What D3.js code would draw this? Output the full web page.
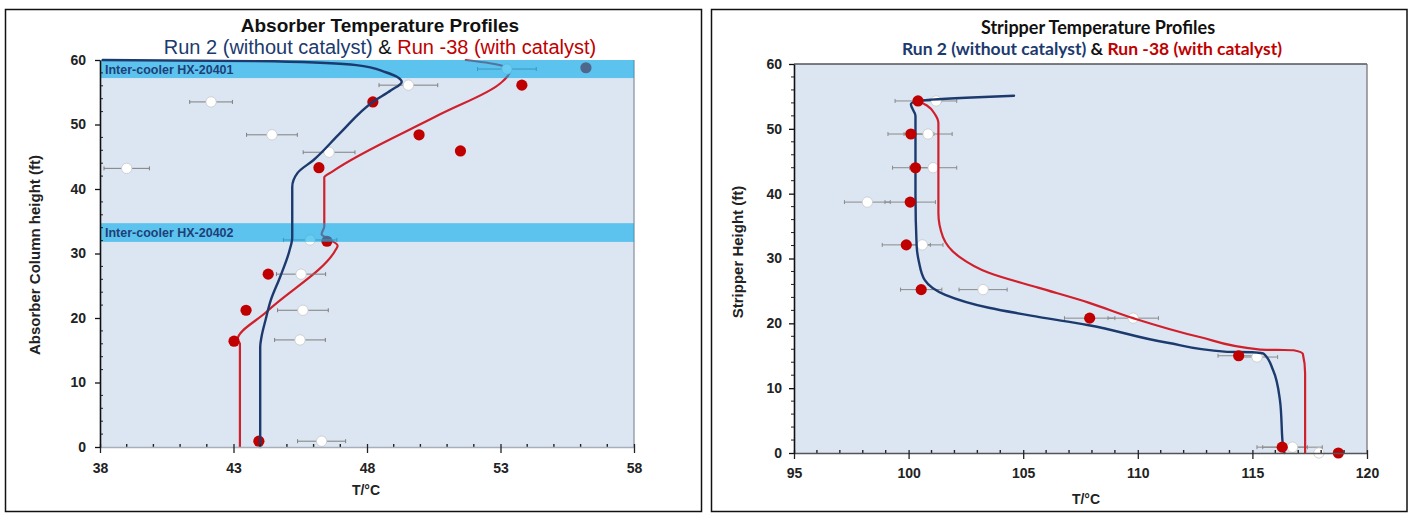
<!DOCTYPE html>
<html>
<head>
<meta charset="utf-8">
<script src="https://cdn.jsdelivr.net/npm/d3@7"></script>
<style>
  body { margin: 0; background: #fff; }
  svg { display: block; }
</style>
</head>
<body>
<script>
// ---------- Absorber column (left panel) ----------
const absXTicks = [38, 43, 48, 53, 58];
const absYTicks = [0, 10, 20, 30, 40, 50, 60];

// Run 2 (without catalyst): measured temperature, height, +/- error
const absRun2T   = [49.55, 42.16, 44.44, 46.58, 39.0, 45.87, 45.53, 45.6, 45.49, 46.3, 53.24];
const absRun2H   = [56.1, 53.5, 48.4, 45.7, 43.2, 32.1, 26.8, 21.2, 16.6, 0.9, 58.6];
const absRun2Err = [1.1, 0.8, 0.95, 0.97, 0.85, 1.0, 0.92, 0.95, 0.95, 0.9, 1.1];

// Run -38 (with catalyst): measured temperature, height
const absRun38T = [48.22, 49.95, 51.5, 46.2, 46.5, 53.8, 56.2, 44.3, 43.47, 43.02, 43.95];
const absRun38H = [53.5, 48.4, 45.9, 43.3, 31.9, 56.1, 58.8, 26.8, 21.2, 16.4, 0.9];

// Model profiles [T, height], listed from the bottom of the column upward
const absRun2Model = [[44.0,0],[44.0,15.5],[44.05,17.1],[44.2,19.7],[44.4,22.8],[44.75,26.4],[45.1,30.5],
  [45.2,32.5],[45.2,40.3],[45.4,42.5],[46.0,44.5],[47.0,48.7],[48.22,53.5],[48.9,55.3],[49.3,56.6],
  [48.7,58.1],[47.6,59.2],[44.5,59.8],[38.1,60]];
const absRun38Model = [[43.24,0],[43.24,16.0],[43.15,16.6],[44.25,21.0],[46.8,30.4],[46.9,31.2],
  [46.6,32.2],[46.3,33.0],[46.4,34.2],[46.4,41.8],[46.7,42.7],[50.7,51.5],[53.0,56.4],[53.35,58.2],
  [53.2,58.9],[52.6,59.5],[51.7,60]];

// Inter-cooler bands [bottom, top] in ft
const coolerNames = ["Inter-cooler HX-20401", "Inter-cooler HX-20402"];
const coolerBands = [[57.2, 60], [31.8, 34.7]];

// ---------- Stripper column (right panel) ----------
const strXTicks = [95, 100, 105, 110, 115, 120];
const strYTicks = [0, 10, 20, 30, 40, 50, 60];

const strRun2T   = [101.2, 100.85, 101.07, 98.2, 100.6, 103.25, 109.8, 115.2, 116.75, 117.9];
const strRun2H   = [54.3, 49.2, 44.0, 38.7, 32.1, 25.2, 20.8, 14.8, 0.9, 0.0];
const strRun2Err = [0.9, 1.05, 1.03, 1.0, 0.9, 1.05, 1.1, 0.9, 1.3, 0];

const strRun38T   = [100.41, 100.1, 100.3, 100.07, 99.9, 100.55, 107.9, 114.4, 116.3, 118.75];
const strRun38H   = [54.3, 49.2, 44.0, 38.7, 32.1, 25.2, 20.8, 15.0, 0.9, 0.0];
const strRun38Err = [1.0, 1.0, 1.0, 1.1, 1.05, 0.9, 1.1, 0.9, 1.1, 0];

const strRun2Model = [[116.4,0],[116.35,0.5],[116.2,8.2],[115.9,12.8],[115.5,15.3],[115.0,15.55],
  [113.9,15.6],[111.3,17.0],[107.8,19.75],[105.65,21.0],[103.5,22.4],[101.6,24.4],[100.7,26.7],
  [100.45,29.5],[100.35,32],[100.3,40],[100.3,52.0],[100.1,53.8],[100.4,54.3],[101.0,54.5],
  [102.5,54.8],[104.6,55.1]];
const strRun38Model = [[117.3,0],[117.3,12.3],[117.2,15.3],[116.8,15.85],[116.1,15.9],[115.35,15.95],
  [112.7,17.9],[109.8,20.8],[107.85,23.2],[105.65,25.5],[103.5,27.8],[102.2,30.3],[101.5,33.3],
  [101.3,37],[101.3,50.9],[101.16,52.2],[100.8,53.6],[100.41,54.3]];

// ---------- styles ----------
const NAVY = "#1c3a6e";
const RED = "#c00000";
const RED_LINE = "#d0202c";
const PLOT_BG = "#dce6f2";
const ARIAL = "'Liberation Sans', Arial, sans-serif";
const CALIBRI = "Lato, 'Open Sans', sans-serif";

const svg = d3.select("body").append("svg")
  .attr("width", 1413).attr("height", 513)
  .style("background", "#fff");

function range(a, b, step) { return d3.range(a, b + step / 2, step); }

function drawAxes(g, x, y, xMajor, yMajor, opt) {
  const [x0] = x.range();
  const [y0] = y.range();
  // minor ticks
  const xMinor = range(x.domain()[0], x.domain()[1], 1).filter(v => !xMajor.includes(v));
  g.append("g").selectAll("line").data(xMinor).join("line")
    .attr("x1", d => x(d)).attr("x2", d => x(d))
    .attr("y1", y0).attr("y2", y0 - 3)
    .attr("stroke", "#222").attr("stroke-width", 1.4);
  const yMinor = range(0, 60, 2).filter(v => !yMajor.includes(v));
  g.append("g").selectAll("line").data(yMinor).join("line")
    .attr("x1", x0 - (opt.yMinorOut || 0)).attr("x2", x0 + (opt.yMinorIn || 0))
    .attr("y1", d => y(d)).attr("y2", d => y(d))
    .attr("stroke", "#222").attr("stroke-width", 1);

  const xa = g.append("g").attr("transform", `translate(0,${y0})`)
    .call(d3.axisBottom(x).tickValues(xMajor).tickSize(6).tickSizeOuter(0).tickPadding(opt.xPad));
  xa.select(".domain").attr("stroke", opt.xDomain).attr("stroke-width", 1.3);
  xa.selectAll(".tick line").attr("stroke", "#222").attr("stroke-width", 1.3).attr("y1", -3);
  xa.selectAll("text").attr("font-family", ARIAL).attr("font-size", opt.tickFont)
    .attr("font-weight", "bold").attr("fill", "#222");

  const ya = g.append("g").attr("transform", `translate(${x0},0)`)
    .call(d3.axisLeft(y).tickValues(yMajor).tickSize(5).tickSizeOuter(0).tickPadding(opt.yPad));
  ya.select(".domain").attr("stroke", "#111").attr("stroke-width", 1.6);
  ya.selectAll(".tick line").attr("stroke", "#111").attr("stroke-width", 1.3);
  ya.selectAll("text").attr("font-family", ARIAL).attr("font-size", opt.tickFont)
    .attr("font-weight", "bold").attr("fill", "#222");
}

function errorBars(g, x, y, T, H, E, color) {
  const idx = d3.range(T.length).filter(i => E[i] > 0);
  const eg = g.append("g").attr("stroke", color).attr("stroke-width", 1);
  eg.selectAll("line.bar").data(idx).join("line").attr("class", "bar")
    .attr("x1", i => x(T[i] - E[i])).attr("x2", i => x(T[i] + E[i]))
    .attr("y1", i => y(H[i])).attr("y2", i => y(H[i]));
  eg.selectAll("line.capL").data(idx).join("line").attr("class", "capL")
    .attr("x1", i => x(T[i] - E[i])).attr("x2", i => x(T[i] - E[i]))
    .attr("y1", i => y(H[i]) - 2).attr("y2", i => y(H[i]) + 2);
  eg.selectAll("line.capR").data(idx).join("line").attr("class", "capR")
    .attr("x1", i => x(T[i] + E[i])).attr("x2", i => x(T[i] + E[i]))
    .attr("y1", i => y(H[i]) - 2).attr("y2", i => y(H[i]) + 2);
}

function dots(g, x, y, T, H, fill, stroke, r) {
  g.append("g").selectAll("circle").data(d3.range(T.length)).join("circle")
    .attr("cx", i => x(T[i])).attr("cy", i => y(H[i])).attr("r", r)
    .attr("fill", fill).attr("stroke", stroke).attr("stroke-width", 0.8);
}

// Profiles are single-valued in height, so interpolate T as a monotone function of height
function profile(g, x, y, pts, color, w) {
  const line = d3.line().x(d => x(d[0])).y(d => y(d[1])).curve(d3.curveMonotoneY);
  g.append("path").datum(pts).attr("d", line)
    .attr("fill", "none").attr("stroke", color).attr("stroke-width", w)
    .attr("stroke-linejoin", "round").attr("stroke-linecap", "round");
}

function subtitle(g, cx, yBase, font, size, weight) {
  const t = g.append("text").attr("x", cx).attr("y", yBase).attr("text-anchor", "middle")
    .attr("font-family", font).attr("font-size", size).attr("font-weight", weight);
  t.append("tspan").attr("fill", NAVY).text("Run 2 (without catalyst)");
  t.append("tspan").attr("fill", "#111").text(" & ");
  t.append("tspan").attr("fill", RED).text("Run -38 (with catalyst)");
}

// ================= Left panel: Absorber =================
{
  const g = svg.append("g");
  g.append("rect").attr("x", 5.5).attr("y", 9.5).attr("width", 696).attr("height", 502)
    .attr("fill", "#fff").attr("stroke", "#111").attr("stroke-width", 1.5);

  const x = d3.scaleLinear().domain([38, 58]).range([100, 634]);
  const y = d3.scaleLinear().domain([0, 60]).range([447, 60]);

  g.append("rect").attr("x", 100).attr("y", y(60)).attr("width", 534).attr("height", y(0) - y(60))
    .attr("fill", PLOT_BG);
  g.append("line").attr("x1", 634).attr("x2", 634).attr("y1", y(60)).attr("y2", y(0))
    .attr("stroke", "#8c96a0").attr("stroke-width", 1.3);

  // Run -38 profile and points sit beneath the cooler shading
  profile(g, x, y, absRun38Model, RED_LINE, 2.2);
  dots(g, x, y, absRun38T, absRun38H, RED, "none", 5.6);
  errorBars(g, x, y, absRun2T, absRun2H, absRun2Err, "#7f7f7f");
  dots(g, x, y, absRun2T, absRun2H, "#fff", "#c8c8c8", 5.2);

  // cooler bands
  g.append("g").selectAll("rect").data(coolerBands).join("rect")
    .attr("x", 100).attr("width", 534)
    .attr("y", d => y(d[1])).attr("height", d => y(d[0]) - y(d[1]))
    .attr("fill", "#05aceb").attr("fill-opacity", 0.6);

  profile(g, x, y, absRun2Model, NAVY, 2.4);

  g.append("g").selectAll("text").data(coolerBands).join("text")
    .attr("x", 105).attr("y", d => (y(d[0]) + y(d[1])) / 2 + 4.5)
    .attr("font-family", ARIAL).attr("font-size", 12.5).attr("font-weight", "bold")
    .attr("fill", "#1f3f78").text((d, i) => coolerNames[i]);

  drawAxes(g, x, y, absXTicks, absYTicks,
    { xPad: 10, yPad: 9, xDomain: "#a7b0ba", tickFont: 14, yMinorIn: 3, yMinorOut: 0 });

  g.append("text").attr("x", 380).attr("y", 32).attr("text-anchor", "middle")
    .attr("font-family", ARIAL).attr("font-size", 19).attr("font-weight", "bold").attr("fill", "#111")
    .text("Absorber Temperature Profiles");
  subtitle(g, 380, 54, ARIAL, 20, "normal");

  g.append("text").attr("x", 366).attr("y", 495).attr("text-anchor", "middle")
    .attr("font-family", ARIAL).attr("font-size", 14).attr("font-weight", "bold").attr("fill", "#222")
    .text("T/°C");
  g.append("text").attr("transform", "translate(40,255) rotate(-90)").attr("text-anchor", "middle")
    .attr("font-family", ARIAL).attr("font-size", 15).attr("font-weight", "bold").attr("fill", "#222")
    .text("Absorber Column height (ft)");
}

// ================= Right panel: Stripper =================
{
  const g = svg.append("g");
  g.append("rect").attr("x", 711.5).attr("y", 9.5).attr("width", 695.5).attr("height", 502)
    .attr("fill", "#fff").attr("stroke", "#111").attr("stroke-width", 1.5);

  const x = d3.scaleLinear().domain([95, 120]).range([794, 1367]);
  const y = d3.scaleLinear().domain([0, 60]).range([453, 64]);

  g.append("rect").attr("x", 794).attr("y", 64).attr("width", 573).attr("height", 389)
    .attr("fill", PLOT_BG);
  g.append("line").attr("x1", 794).attr("x2", 1367).attr("y1", 64).attr("y2", 64)
    .attr("stroke", "#555").attr("stroke-width", 1.6);
  g.append("line").attr("x1", 1367).attr("x2", 1367).attr("y1", 64).attr("y2", 453)
    .attr("stroke", "#777").attr("stroke-width", 1.3);

  errorBars(g, x, y, strRun2T, strRun2H, strRun2Err, "#8a8a8a");
  errorBars(g, x, y, strRun38T, strRun38H, strRun38Err, "#8a8a8a");
  dots(g, x, y, strRun2T, strRun2H, "#fff", "#c8c8c8", 5.2);
  profile(g, x, y, strRun38Model, RED_LINE, 2.2);
  profile(g, x, y, strRun2Model, NAVY, 2.4);
  dots(g, x, y, strRun38T, strRun38H, RED, "none", 5.6);

  drawAxes(g, x, y, strXTicks, strYTicks,
    { xPad: 9, yPad: 7, xDomain: "#555", tickFont: 14, yMinorIn: 0, yMinorOut: 3 });

  g.append("text").attr("x", 1098).attr("y", 34).attr("text-anchor", "middle")
    .attr("font-family", CALIBRI).attr("font-size", 18).attr("font-weight", "bold").attr("fill", "#111")
    .text("Stripper Temperature Profiles");
  subtitle(g, 1092, 55, CALIBRI, 17.5, "bold");

  g.append("text").attr("x", 1086).attr("y", 504).attr("text-anchor", "middle")
    .attr("font-family", ARIAL).attr("font-size", 14).attr("font-weight", "bold").attr("fill", "#222")
    .text("T/°C");
  g.append("text").attr("transform", "translate(743,252) rotate(-90)").attr("text-anchor", "middle")
    .attr("font-family", ARIAL).attr("font-size", 15).attr("font-weight", "bold").attr("fill", "#222")
    .text("Stripper Height (ft)");
}
</script>
</body>
</html>
